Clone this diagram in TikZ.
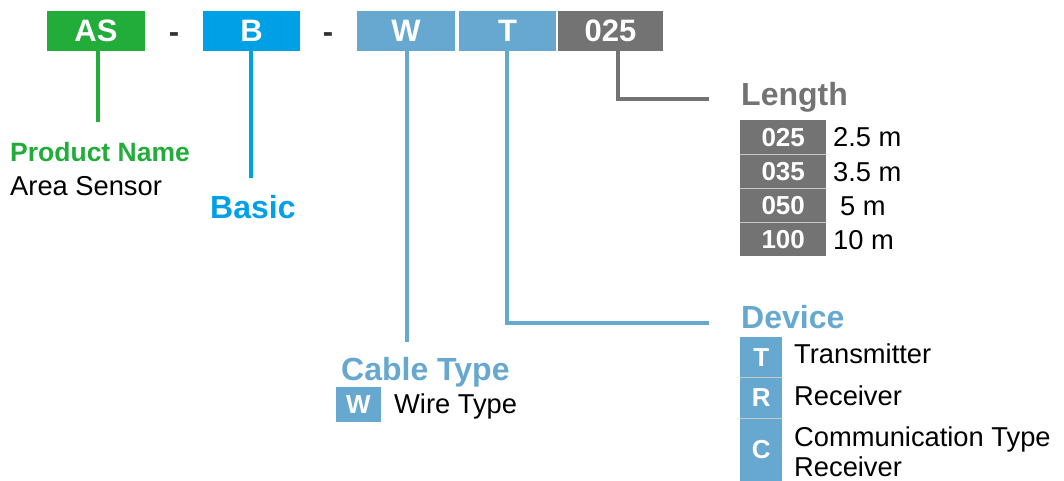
\documentclass[tikz,border=0pt]{standalone}
\usepackage{fontspec}
\setmainfont{Liberation Sans}
\definecolor{cgreen}{RGB}{34,172,58}
\definecolor{cblue}{RGB}{0,160,230}
\definecolor{clblue}{RGB}{102,168,208}
\definecolor{cgray}{RGB}{115,115,115}
\definecolor{cdash}{RGB}{50,50,50}
\begin{document}
\begin{tikzpicture}[x=1pt,y=-1pt,
  topbox/.style={minimum height=40pt, inner sep=0pt, text=white, font=\fontsize{31}{31}\selectfont\bfseries},
  dashsym/.style={inner sep=0pt, anchor=base, text=cdash, font=\fontsize{31}{31}\selectfont\bfseries},
  conn/.style={line width=4.5pt},
  head/.style={inner sep=0pt, anchor=base west, font=\fontsize{32}{32}\selectfont\bfseries},
  desc/.style={inner sep=0pt, anchor=base west, text=black, font=\fontsize{27.3}{27.3}\selectfont},
  code/.style={inner sep=0pt, text=white, font=\fontsize{26}{26}\selectfont\bfseries},
  lenrow/.style={code, fill=cgray, minimum width=86pt, minimum height=34pt, anchor=north west},
  seprule/.style={line width=0.6pt, draw=white!60!cgray}
]
\useasboundingbox (0,0) rectangle (1064,481);

% top code boxes
\node[topbox, fill=cgreen, minimum width=98pt] (AS) at (96,31) {AS};
\node[dashsym] (d1) at (174,43) {-};
\node[topbox, fill=cblue, minimum width=97pt] (B) at (251.5,31) {B};
\node[dashsym] (d2) at (328,43) {-};
\node[topbox, fill=clblue, minimum width=98pt] (W) at (406,31) {W};
\node[topbox, fill=clblue, minimum width=97pt] (T) at (507.5,31) {T};
\node[topbox, fill=cgray, minimum width=105pt] (L) at (610.5,31) {025};

% labels
\node[inner sep=0pt, anchor=base west, text=cgreen, font=\fontsize{26.5}{26.5}\selectfont\bfseries] (pn) at (10,162) {Product Name};
\node[desc] (as) at (10,195) {Area Sensor};
\node[head, text=cblue] (basic) at (210,218) {Basic};
\node[head, text=clblue] (cable) at (341,380) {Cable Type};
\node[head, text=cgray] (length) at (741,106) {Length};
\node[head, text=clblue] (device) at (741,328) {Device};

% connectors
\coordinate (eAS) at (98,122);
\coordinate (eB) at (251,178);
\coordinate (eW) at (407,342);
\coordinate (kT) at (507,323);
\coordinate (eT) at (709,323);
\coordinate (kL) at (618,99);
\coordinate (eL) at (709,99);
\draw[conn, cgreen] (AS.south -| eAS) -- (eAS);
\draw[conn, cblue] (B.south -| eB) -- (eB);
\draw[conn, clblue] (W.south -| eW) -- (eW);
\draw[conn, clblue] (T.south -| kT) -- (kT) -- (eT);
\draw[conn, cgray] (L.south -| kL) -- (kL) -- (eL);

% length table
\node[lenrow] (r1) at (740,120) {025};
\node[lenrow] (r2) at (740,154) {035};
\node[lenrow] (r3) at (740,188) {050};
\node[lenrow] (r4) at (740,222) {100};
\draw[seprule] (r1.south west) -- (r1.south east);
\draw[seprule] (r2.south west) -- (r2.south east);
\draw[seprule] (r3.south west) -- (r3.south east);
\node[desc] (t1) at (833,147) {2.5 m};
\node[desc] (t2) at (833,181) {3.5 m};
\node[desc] (t3) at (840,215) {5 m};
\node[desc] (t4) at (833,249) {10 m};

% cable type
\node[code, fill=clblue, minimum width=45pt, minimum height=35pt] (cw) at (358.5,404.5) {W};
\node[desc] (wt) at (394,413) {Wire Type};

% device table
\node[code, fill=clblue, minimum width=42pt, minimum height=40pt, anchor=north west] (dT) at (740,337) {T};
\node[code, fill=clblue, minimum width=42pt, minimum height=41pt, anchor=north west] (dR) at (740,377) {R};
\node[code, fill=clblue, minimum width=42pt, minimum height=63pt, anchor=north west] (dC) at (740,418) {C};
\draw[seprule] (dT.south west) -- (dT.south east);
\draw[seprule] (dR.south west) -- (dR.south east);
\node[desc] (tt) at (794,363) {Transmitter};
\node[desc] (tr) at (794,405) {Receiver};
\node[desc] (tc1) at (794,446) {Communication Type};
\node[desc] (tc2) at (794,476) {Receiver};
\end{tikzpicture}
\end{document}
